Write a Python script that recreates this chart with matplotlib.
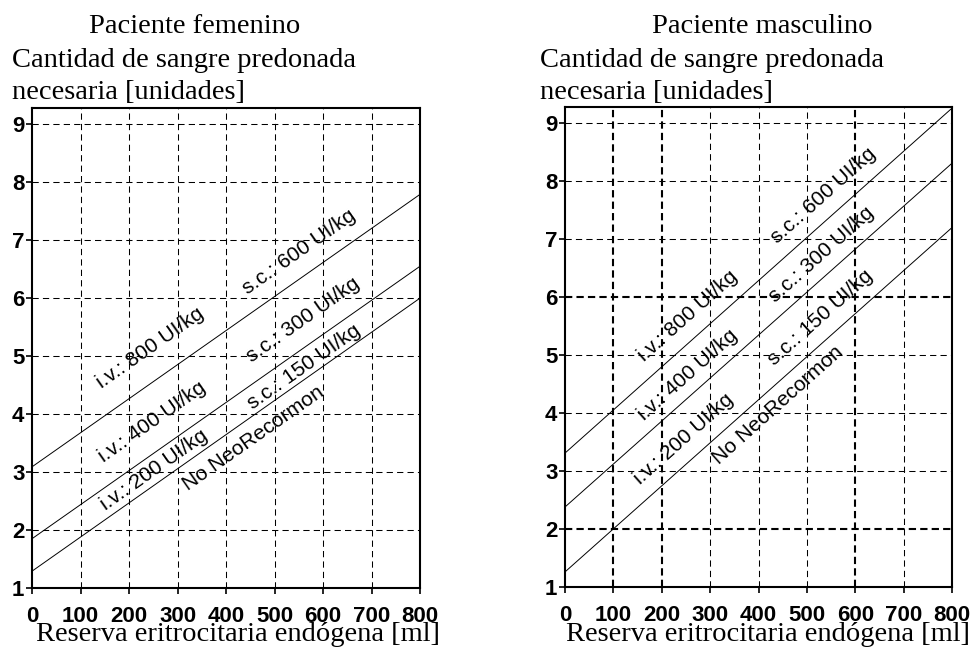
import numpy as np
import matplotlib
matplotlib.use('Agg')
from matplotlib import pyplot as plt

# data: end points of the straight lines (x = 0 and x = 800 ml)
x_ends = [0, 800]

fem_800_600 = [3.09, 7.79]
fem_400_300 = [1.85, 6.55]
fem_none = [1.29, 6.00]

masc_800_600 = [3.31, 9.26]
masc_400_300 = [2.38, 8.31]
masc_none = [1.26, 7.20]

x_ticks = [0, 100, 200, 300, 400, 500, 600, 700, 800]
y_ticks = [1, 2, 3, 4, 5, 6, 7, 8, 9]

line_labels = ['i.v.: 800 UI/kg', 's.c.: 600 UI/kg',
               'i.v.: 400 UI/kg', 's.c.: 300 UI/kg',
               'i.v.: 200 UI/kg', 's.c.: 150 UI/kg',
               'No NeoRecormon']

titles = ['Paciente femenino', 'Paciente masculino']
ylabel_lines = ['Cantidad de sangre predonada', 'necesaria [unidades]']
xlabel = 'Reserva eritrocitaria endógena [ml]'

SERIF = 'Liberation Serif'
SANS = 'Liberation Sans'

W, H = 976, 654
fig = plt.figure(figsize=(W / 100, H / 100), dpi=100)


def px_axes(x0, y0, x1, y1):
    # pixel box (top-left origin) -> axes
    return fig.add_axes([x0 / W, 1 - y1 / H, (x1 - x0) / W, (y1 - y0) / H])


def setup(ax, thick_x=(), thick_y=()):
    ax.set_xlim(0, 800)
    ax.set_ylim(1, 9.28)
    for s in ax.spines.values():
        s.set_linewidth(1.5)
    ax.set_xticks(x_ticks)
    ax.set_yticks(y_ticks)
    ax.tick_params(axis='both', direction='out', length=4, width=1.2,
                   labelsize=16)
    ax.tick_params(axis='x', pad=9)
    ax.tick_params(axis='y', pad=1.5)
    for lab in ax.get_xticklabels() + ax.get_yticklabels():
        lab.set_fontfamily(SANS)
        lab.set_fontweight('bold')
    for v in x_ticks[1:-1]:
        if v in thick_x:
            ax.axvline(v, color='black', lw=1.5, ls=(0, (3.5, 2)), zorder=1)
        else:
            ax.axvline(v, color='black', lw=0.75, ls=(0, (6, 4)), zorder=1)
    for v in y_ticks[1:]:
        if v in thick_y:
            ax.axhline(v, color='black', lw=1.5, ls=(0, (3.5, 2)), zorder=1)
        else:
            ax.axhline(v, color='black', lw=0.75, ls=(0, (6, 4)), zorder=1)


def draw_lines(ax, series, label_pos):
    for ys in series:
        ax.plot(x_ends, ys, color='black', lw=0.7, zorder=2)
    ys = series[0]
    ang = np.degrees(np.arctan2(ys[1] - ys[0], x_ends[1] - x_ends[0]))
    for txt, (lx, ly) in zip(line_labels, label_pos):
        ax.text(lx, ly, txt, rotation=ang, transform_rotates_text=True,
                rotation_mode='anchor', ha='center', va='center',
                fontsize=15, family=SANS, zorder=3)


# left: female patient
ax1 = px_axes(32, 108, 420, 588)
setup(ax1)
draw_lines(ax1, [fem_800_600, fem_400_300, fem_none],
           [(243, 5.14), (551, 6.79), (248, 3.86), (559, 5.62),
            (252, 3.03), (561, 4.81), (456, 3.59)])

# right: male patient
ax2 = px_axes(565, 107, 952, 587)
setup(ax2, thick_x=(100, 200, 600), thick_y=(2, 6))
draw_lines(ax2, [masc_800_600, masc_400_300, masc_none],
           [(254, 5.68), (534, 7.76), (254, 4.65), (531, 6.73),
            (246, 3.56), (529, 5.65), (440, 4.13)])

# titles and axis texts
for title, cx, lx, axc in [(titles[0], 195, 12, 238), (titles[1], 762, 540, 768)]:
    fig.text(cx / W, 1 - 33 / H, title, ha='center', va='baseline',
             fontsize=20.5, family=SERIF)
    fig.text(lx / W, 1 - 67 / H, ylabel_lines[0], ha='left', va='baseline',
             fontsize=20.5, family=SERIF)
    fig.text(lx / W, 1 - 99 / H, ylabel_lines[1], ha='left', va='baseline',
             fontsize=20.5, family=SERIF)
    fig.text(axc / W, 1 - 641 / H, xlabel, ha='center', va='baseline',
             fontsize=20.5, family=SERIF)

fig.savefig('out.png', dpi=100)
